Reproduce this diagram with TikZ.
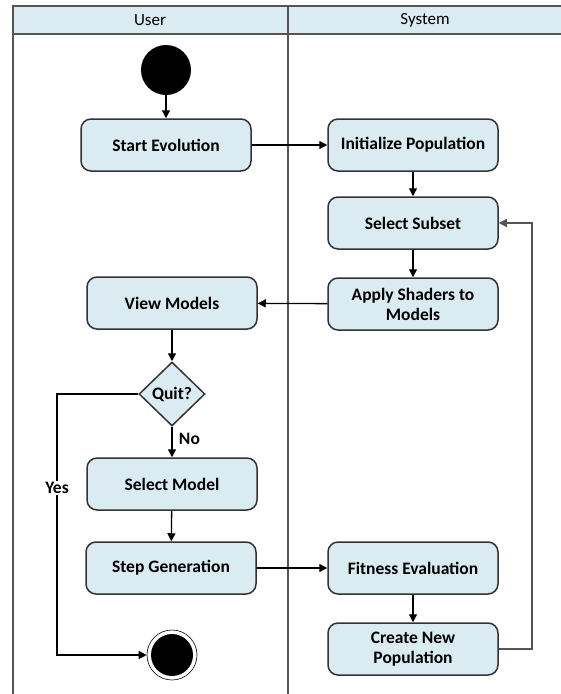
\documentclass[tikz,border=0pt]{standalone}
\usepackage{fontspec}
\setmainfont{Carlito}
\usetikzlibrary{shapes.geometric,arrows.meta}
\definecolor{boxfill}{HTML}{DAEBF2}
\definecolor{edge}{HTML}{333333}
\definecolor{lane}{HTML}{555555}
\tikzset{
  act/.style={draw=edge, line width=1.5pt, fill=boxfill, rounded corners=10pt,
    minimum width=170pt, minimum height=52pt, align=center,
    font=\fontsize{17.5}{20}\selectfont\bfseries, inner sep=2pt},
  dec/.style={draw=edge, line width=1.5pt, fill=boxfill, diamond, aspect=1,
    minimum width=66pt, minimum height=64pt, inner sep=0pt,
    font=\fontsize{17.5}{20}\selectfont\bfseries},
  flow/.style={draw=black, line width=1.3pt, -{Triangle[length=8pt,width=8pt]}},
  lbl/.style={font=\fontsize{17.5}{20}\selectfont\bfseries, fill=white, inner sep=1pt},
  hdr/.style={font=\fontsize{17}{20}\selectfont},
}
\begin{document}
\begin{tikzpicture}[x=1pt,y=-1pt]
\useasboundingbox (0,0) rectangle (561,694);
% lanes
\draw[fill=boxfill, draw=lane, line width=1.5pt] (13,6) rectangle (563,34);
\draw[lane, line width=1.5pt] (13,6) -- (13,696);
\draw[lane, line width=1.5pt] (288,6) -- (288,696);
\node[hdr] (huser) at (150,20) {User};
\node[hdr] (hsys) at (425,20) {System};
% nodes
\node[circle, fill=black, minimum size=50pt, inner sep=0pt] (start) at (166,70) {};
\node[act] (se) at (166,145) {Start Evolution};
\node[act] (ip) at (413,145) {Initialize Population};
\node[act] (ss) at (413,223) {Select Subset};
\node[act] (ap) at (413,304) {Apply Shaders to\\Models};
\node[act] (vm) at (172,303) {View Models};
\node[dec] (q) at (172,394) {Quit?};
\node[act] (sm) at (172,484) {Select Model};
\node[act] (sg) at (171,568) {Step Generation};
\node[act] (fe) at (413,568) {Fitness Evaluation};
\node[act] (cn) at (413,649) {Create New\\Population};
\node[circle, draw=black, line width=0.6pt, fill=white, minimum size=50pt, inner sep=0pt] (endo) at (172,655) {};
\node[circle, fill=black, minimum size=42pt, inner sep=0pt] (endi) at (172,655) {};
\coordinate (yb) at (57,655);
\coordinate (yt) at (57,394);
\coordinate (lt) at (532,223);
\coordinate (lb) at (532,649);
% connectors
\draw[flow] (start) -- (se);
\draw[flow] (se) -- (ip);
\draw[flow] (ip) -- (ss);
\draw[flow] (ss) -- (ap);
\draw[flow] (ap) -- (vm);
\draw[flow] (vm) -- (q);
\draw[flow] (q) -- node[pos=0.4, right, font=\fontsize{17.5}{20}\selectfont\bfseries, xshift=3pt] {No} (sm);
\draw[flow] (sm) -- (sg);
\draw[flow] (sg) -- (fe);
\draw[flow] (fe) -- (cn);
\draw[flow, draw=lane] (cn.east) -- (lb) -- (lt) -- (ss.east);
\draw[flow] (q.west) -- (yt) -- (yb) -- (endo.west);
\node[lbl] (yes) at (57,488) {Yes};
\end{tikzpicture}
\end{document}
